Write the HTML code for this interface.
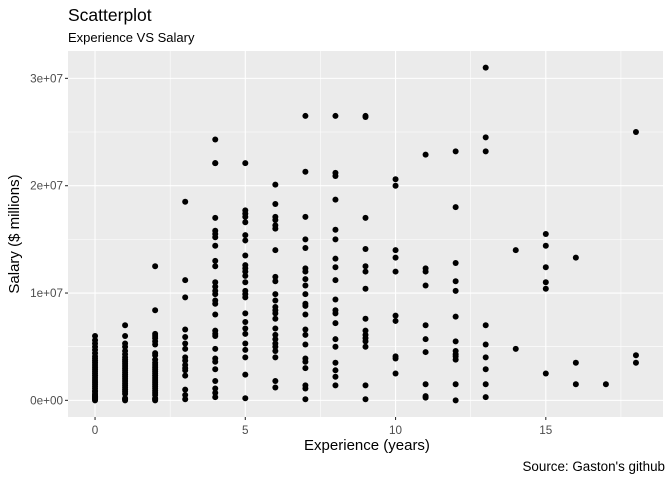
<!DOCTYPE html>
<html><head><meta charset="utf-8">
<style>
body{margin:0;background:#fff;}
svg{display:block;font-family:"Liberation Sans",sans-serif;}
</style></head>
<body>
<svg id="chart" width="672" height="480">
<rect width="672" height="480" fill="#fff"/>
<text x="68" y="21" font-size="17.5" fill="#000">Scatterplot</text>
<text x="68" y="42" font-size="13" fill="#000">Experience VS Salary</text>
<rect x="68" y="51" width="595" height="366" fill="#ebebeb"/>
<g id="grid"></g>
<g id="axes"></g>
<g id="points"></g>
<text x="367" y="450" font-size="15" text-anchor="middle" fill="#000">Experience (years)</text>
<text transform="translate(19,234) rotate(-90)" font-size="15" text-anchor="middle" fill="#000">Salary ($ millions)</text>
<text x="665" y="471" font-size="13.4" text-anchor="end" fill="#000">Source: Gaston's github</text>
</svg>
<script>
// data: experience (years) and salary (millions)
const experience = [
0,0,0,0,0,0,0,0,0,0,0,0,0,0,0,0,0,0,0,0,0,0,0,0,0,0,0,0,0,0,0,
1,1,1,1,1,1,1,1,1,1,1,1,1,1,1,1,1,1,1,1,1,1,1,1,1,1,1,
2,2,2,2,2,2,2,2,2,2,2,2,2,2,2,2,2,2,2,2,2,2,2,2,2,2,2,2,2,
3,3,3,3,3,3,3,3,3,3,3,3,3,3,3,3,
4,4,4,4,4,4,4,4,4,4,4,4,4,4,4,4,4,4,4,4,4,4,4,4,4,4,4,4,
5,5,5,5,5,5,5,5,5,5,5,5,5,5,5,5,5,5,5,5,5,5,5,5,5,
6,6,6,6,6,6,6,6,6,6,6,6,6,6,6,6,6,6,6,6,6,6,6,6,
7,7,7,7,7,7,7,7,7,7,7,7,7,7,7,7,7,7,7,7,7,7,
8,8,8,8,8,8,8,8,8,8,8,8,8,8,8,8,8,8,8,
9,9,9,9,9,9,9,9,9,9,9,9,9,9,9,
10,10,10,10,10,10,10,10,10,10,
11,11,11,11,11,11,11,11,11,11,
12,12,12,12,12,12,12,12,12,12,12,12,12,
13,13,13,13,13,13,13,13,13,
14,14,
15,15,15,15,15,15,
16,16,16,
17,
18,18,18];
const salary = [
6.0,5.6,5.3,5.0,4.7,4.4,4.1,3.9,3.7,3.5,3.3,3.1,2.9,2.7,2.5,2.3,2.1,1.9,1.7,1.5,1.3,1.1,0.9,0.8,0.6,0.5,0.4,0.3,0.2,0.1,0.0,
7.0,6.0,5.3,5.0,4.6,4.3,4.0,3.8,3.6,3.4,3.2,3.0,2.8,2.6,2.4,2.2,2.0,1.8,1.6,1.4,1.2,1.0,0.8,0.6,0.2,0.1,0.0,
12.5,8.4,6.2,6.0,5.8,5.5,5.2,4.4,4.2,3.8,3.5,3.3,3.1,2.9,2.7,2.5,2.3,2.1,1.9,1.7,1.5,1.3,1.1,0.9,0.7,0.5,0.2,0.1,0.0,
18.5,11.2,9.6,6.6,5.9,5.3,4.8,4.0,3.7,3.3,2.8,2.3,1.0,0.5,0.1,3.0,
24.3,22.1,22.1,17.0,15.8,15.5,15.2,14.4,13.0,12.5,11.0,10.6,10.2,9.9,9.3,9.0,8.0,6.5,6.2,6.0,4.8,3.9,3.6,2.9,1.8,1.1,0.7,0.3,
22.1,17.7,17.4,17.1,16.6,15.4,14.9,13.5,12.6,12.3,12.0,11.6,11.0,10.2,9.9,9.6,8.1,7.3,6.7,6.2,5.3,4.7,4.0,2.4,0.2,
20.1,18.3,17.1,16.8,16.3,16.0,14.0,11.5,11.1,9.9,9.3,8.7,8.4,8.1,7.6,6.7,6.1,5.7,5.3,5.0,4.6,4.0,1.8,1.2,
26.5,21.3,17.1,15.0,14.2,12.3,12.0,11.3,10.7,9.9,9.0,8.8,8.0,6.6,6.1,5.2,3.9,3.6,3.0,1.4,1.1,0.1,
26.5,21.2,20.9,18.7,15.9,15.0,13.2,12.4,11.2,9.4,8.4,8.1,7.2,5.7,5.0,3.5,2.8,2.2,1.4,
26.5,17.0,14.1,12.5,12.0,10.4,7.6,6.5,6.1,5.8,5.5,5.0,1.4,0.1,26.4,
20.6,20.0,14.0,13.3,12.0,7.9,7.4,4.1,3.9,2.5,
22.9,12.3,12.0,10.7,7.0,5.7,4.5,1.5,0.4,0.25,
23.2,18.0,12.8,11.1,10.2,7.8,5.5,4.6,4.3,4.1,3.8,1.5,0.0,
31.0,24.5,23.2,7.0,5.2,4.0,2.9,1.5,0.3,
14.0,4.8,
15.5,14.4,12.4,11.0,10.4,2.5,
13.3,3.5,1.5,
1.5,
25.0,4.2,3.5];
const xTicks = [0,5,10,15];
const yTicks = [0,10,20,30];
const yTickLabels = ["0e+00","1e+07","2e+07","3e+07"];

const NS="http://www.w3.org/2000/svg";
const X0=68,X1=663,Y0=51,Y1=417;
const xmin=-0.9,xmax=18.9,ymin=-1.55,ymax=32.55;
function sx(v){return X0+(v-xmin)/(xmax-xmin)*(X1-X0);}
function sy(v){return Y1-(v-ymin)/(ymax-ymin)*(Y1-Y0);}
function mk(tag,attrs,parent){const e=document.createElementNS(NS,tag);for(const k in attrs)e.setAttribute(k,attrs[k]);parent.appendChild(e);return e;}
const grid=document.getElementById('grid'),axes=document.getElementById('axes'),pts=document.getElementById('points');
for(let i=0;i<xTicks.length;i++){
  const m=xTicks[i]+2.5;
  if(m<xmax){const l=mk('line',{x1:sx(m),x2:sx(m),y1:Y0,y2:Y1,stroke:'#fff','stroke-width':0.55},grid);
  
  }
}
for(let i=0;i<yTicks.length;i++){
  const m=yTicks[i]+5;
  if(m<ymax){const l=mk('line',{x1:X0,x2:X1,y1:sy(m),y2:sy(m),stroke:'#fff','stroke-width':0.55},grid);
  
  }
}
xTicks.forEach(t=>{
  const l=mk('line',{x1:sx(t),x2:sx(t),y1:Y0,y2:Y1,stroke:'#fff','stroke-width':1.1},grid);
  
  
  const tk=mk('line',{x1:sx(t),x2:sx(t),y1:Y1,y2:Y1+3,stroke:'#333','stroke-width':1.1},axes);
  
  
  const tx=mk('text',{x:sx(t),y:Y1+17,'font-size':11.7,'text-anchor':'middle',fill:'#4d4d4d'},axes);
  tx.textContent=t;
  
  
});
yTicks.forEach((t,i)=>{
  const l=mk('line',{x1:X0,x2:X1,y1:sy(t),y2:sy(t),stroke:'#fff','stroke-width':1.1},grid);
  
  
  const tk=mk('line',{x1:X0-3,x2:X0,y1:sy(t),y2:sy(t),stroke:'#333','stroke-width':1.1},axes);
  
  
  const tx=mk('text',{x:X0-5,y:sy(t)+4,'font-size':11.7,'text-anchor':'end',fill:'#4d4d4d'},axes);
  tx.textContent=yTickLabels[i];
  
  
});
for(let i=0;i<experience.length;i++){
  const c=mk('circle',{cx:sx(experience[i]),cy:sy(salary[i]),r:3,fill:'#000'},pts);
  
  
}
</script>
</body></html>
